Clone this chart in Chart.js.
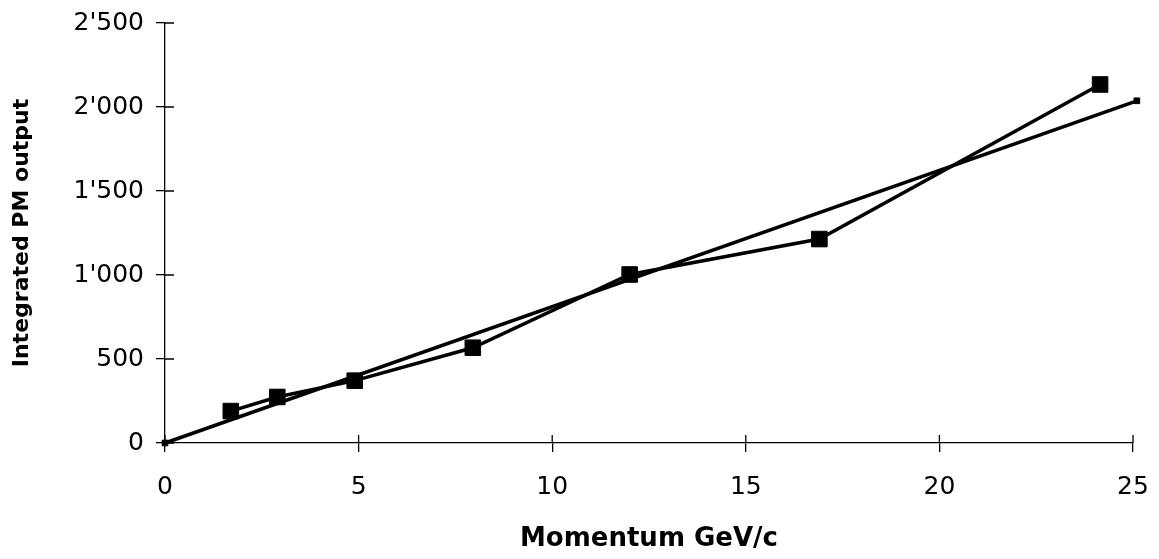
<!DOCTYPE html>
<html lang="en">
  <head>
    <meta charset="UTF-8" />
    <title>Integrated PM output vs momentum</title>
    <style>
      body {
        margin: 0;
        background-color: white;
      }
      #wrap {
        width: 1159px;
        height: 559px;
      }
    </style>
  </head>
  <body>
    <script src="https://cdn.jsdelivr.net/npm/chart.js@4/dist/chart.umd.min.js"></script>
    <div id="wrap">
      <canvas id="pm-chart" width="1159" height="559"></canvas>
    </div>
    <script>
      // measured points (GeV/c, integrated PM output)
      var momentum = [1.7, 2.9, 4.9, 7.95, 12, 16.9, 24.15];
      var pmOutput = [190, 274, 371, 567, 1003, 1214, 2134];
      // straight-line fit, drawn between its two end points
      var fitMomentum = [0, 25.1];
      var fitOutput = [0, 2037];
      var xTicks = [0, 5, 10, 15, 20, 25];
      var yTicks = [0, 500, 1000, 1500, 2000, 2500];

      function withApostrophe(v) {
        return String(v).replace(/\B(?=(\d{3})+(?!\d))/g, "'");
      }

      // ticks in the original cross the axis line, so draw the inner half too
      var crossTicks = {
        id: "crossTicks",
        afterDraw: function (chart) {
          var ctx = chart.ctx;
          var xs = chart.scales.x;
          var ys = chart.scales.y;
          ctx.save();
          ctx.strokeStyle = "#000";
          ctx.lineWidth = 1.3;
          ctx.beginPath();
          xTicks.forEach(function (t) {
            var px = xs.getPixelForValue(t);
            ctx.moveTo(px, ys.bottom);
            ctx.lineTo(px, ys.bottom - 8);
          });
          yTicks.forEach(function (t) {
            var py = ys.getPixelForValue(t);
            ctx.moveTo(xs.left, py);
            ctx.lineTo(xs.left + 9, py);
          });
          ctx.stroke();
          ctx.restore();
        },
      };

      var chart = new Chart(document.getElementById("pm-chart"), {
        type: "scatter",
        data: {
          datasets: [
            {
              data: momentum.map(function (m, i) {
                return { x: m, y: pmOutput[i] };
              }),
              showLine: true,
              borderColor: "#000",
              backgroundColor: "#000",
              borderWidth: 3.5,
              pointStyle: "rect",
              pointRadius: 11,
              pointBorderWidth: 1,
            },
            {
              data: fitMomentum.map(function (m, i) {
                return { x: m, y: fitOutput[i] };
              }),
              showLine: true,
              clip: false,
              borderColor: "#000",
              backgroundColor: "#000",
              borderWidth: 3.5,
              pointStyle: "rect",
              pointRadius: 4,
              pointBorderWidth: 1,
            },
          ],
        },
        options: {
          responsive: false,
          animation: false,
          layout: {
            autoPadding: false,
            padding: { top: 23, right: 26, left: 0, bottom: 0 },
          },
          plugins: {
            legend: { display: false },
            tooltip: { enabled: false },
          },
          scales: {
            x: {
              type: "linear",
              min: 0,
              max: 25,
              afterBuildTicks: function (scale) {
                scale.ticks = xTicks.map(function (v) {
                  return { value: v };
                });
              },
              afterFit: function (scale) {
                scale.height = 116;
                scale.paddingLeft = 0;
                scale.paddingRight = 0;
              },
              ticks: {
                color: "#000",
                font: { family: "DejaVu Sans", size: 25 },
                padding: 20,
                maxRotation: 0,
              },
              grid: {
                drawOnChartArea: false,
                color: "#000",
                lineWidth: 1.3,
                tickLength: 9,
              },
              border: { color: "#000", width: 1.3 },
              title: {
                display: true,
                text: "Momentum GeV/c",
                color: "#000",
                font: { family: "DejaVu Sans", size: 26, weight: "bold" },
                padding: { top: 0, bottom: 4 },
              },
            },
            y: {
              min: 0,
              max: 2500,
              afterBuildTicks: function (scale) {
                scale.ticks = yTicks.map(function (v) {
                  return { value: v };
                });
              },
              afterFit: function (scale) {
                scale.width = 165;
                scale.paddingTop = 0;
                scale.paddingBottom = 0;
              },
              ticks: {
                color: "#000",
                font: { family: "DejaVu Sans", size: 25 },
                padding: 12,
                callback: function (v) {
                  return withApostrophe(v);
                },
              },
              grid: {
                drawOnChartArea: false,
                color: "#000",
                lineWidth: 1.3,
                tickLength: 9,
              },
              border: { color: "#000", width: 1.3 },
              title: {
                display: true,
                text: "Integrated PM output",
                color: "#000",
                font: { family: "DejaVu Sans", size: 22, weight: "bold" },
                padding: { top: 9, bottom: 0 },
              },
            },
          },
        },
        plugins: [crossTicks],
      });
    </script>
  </body>
</html>
